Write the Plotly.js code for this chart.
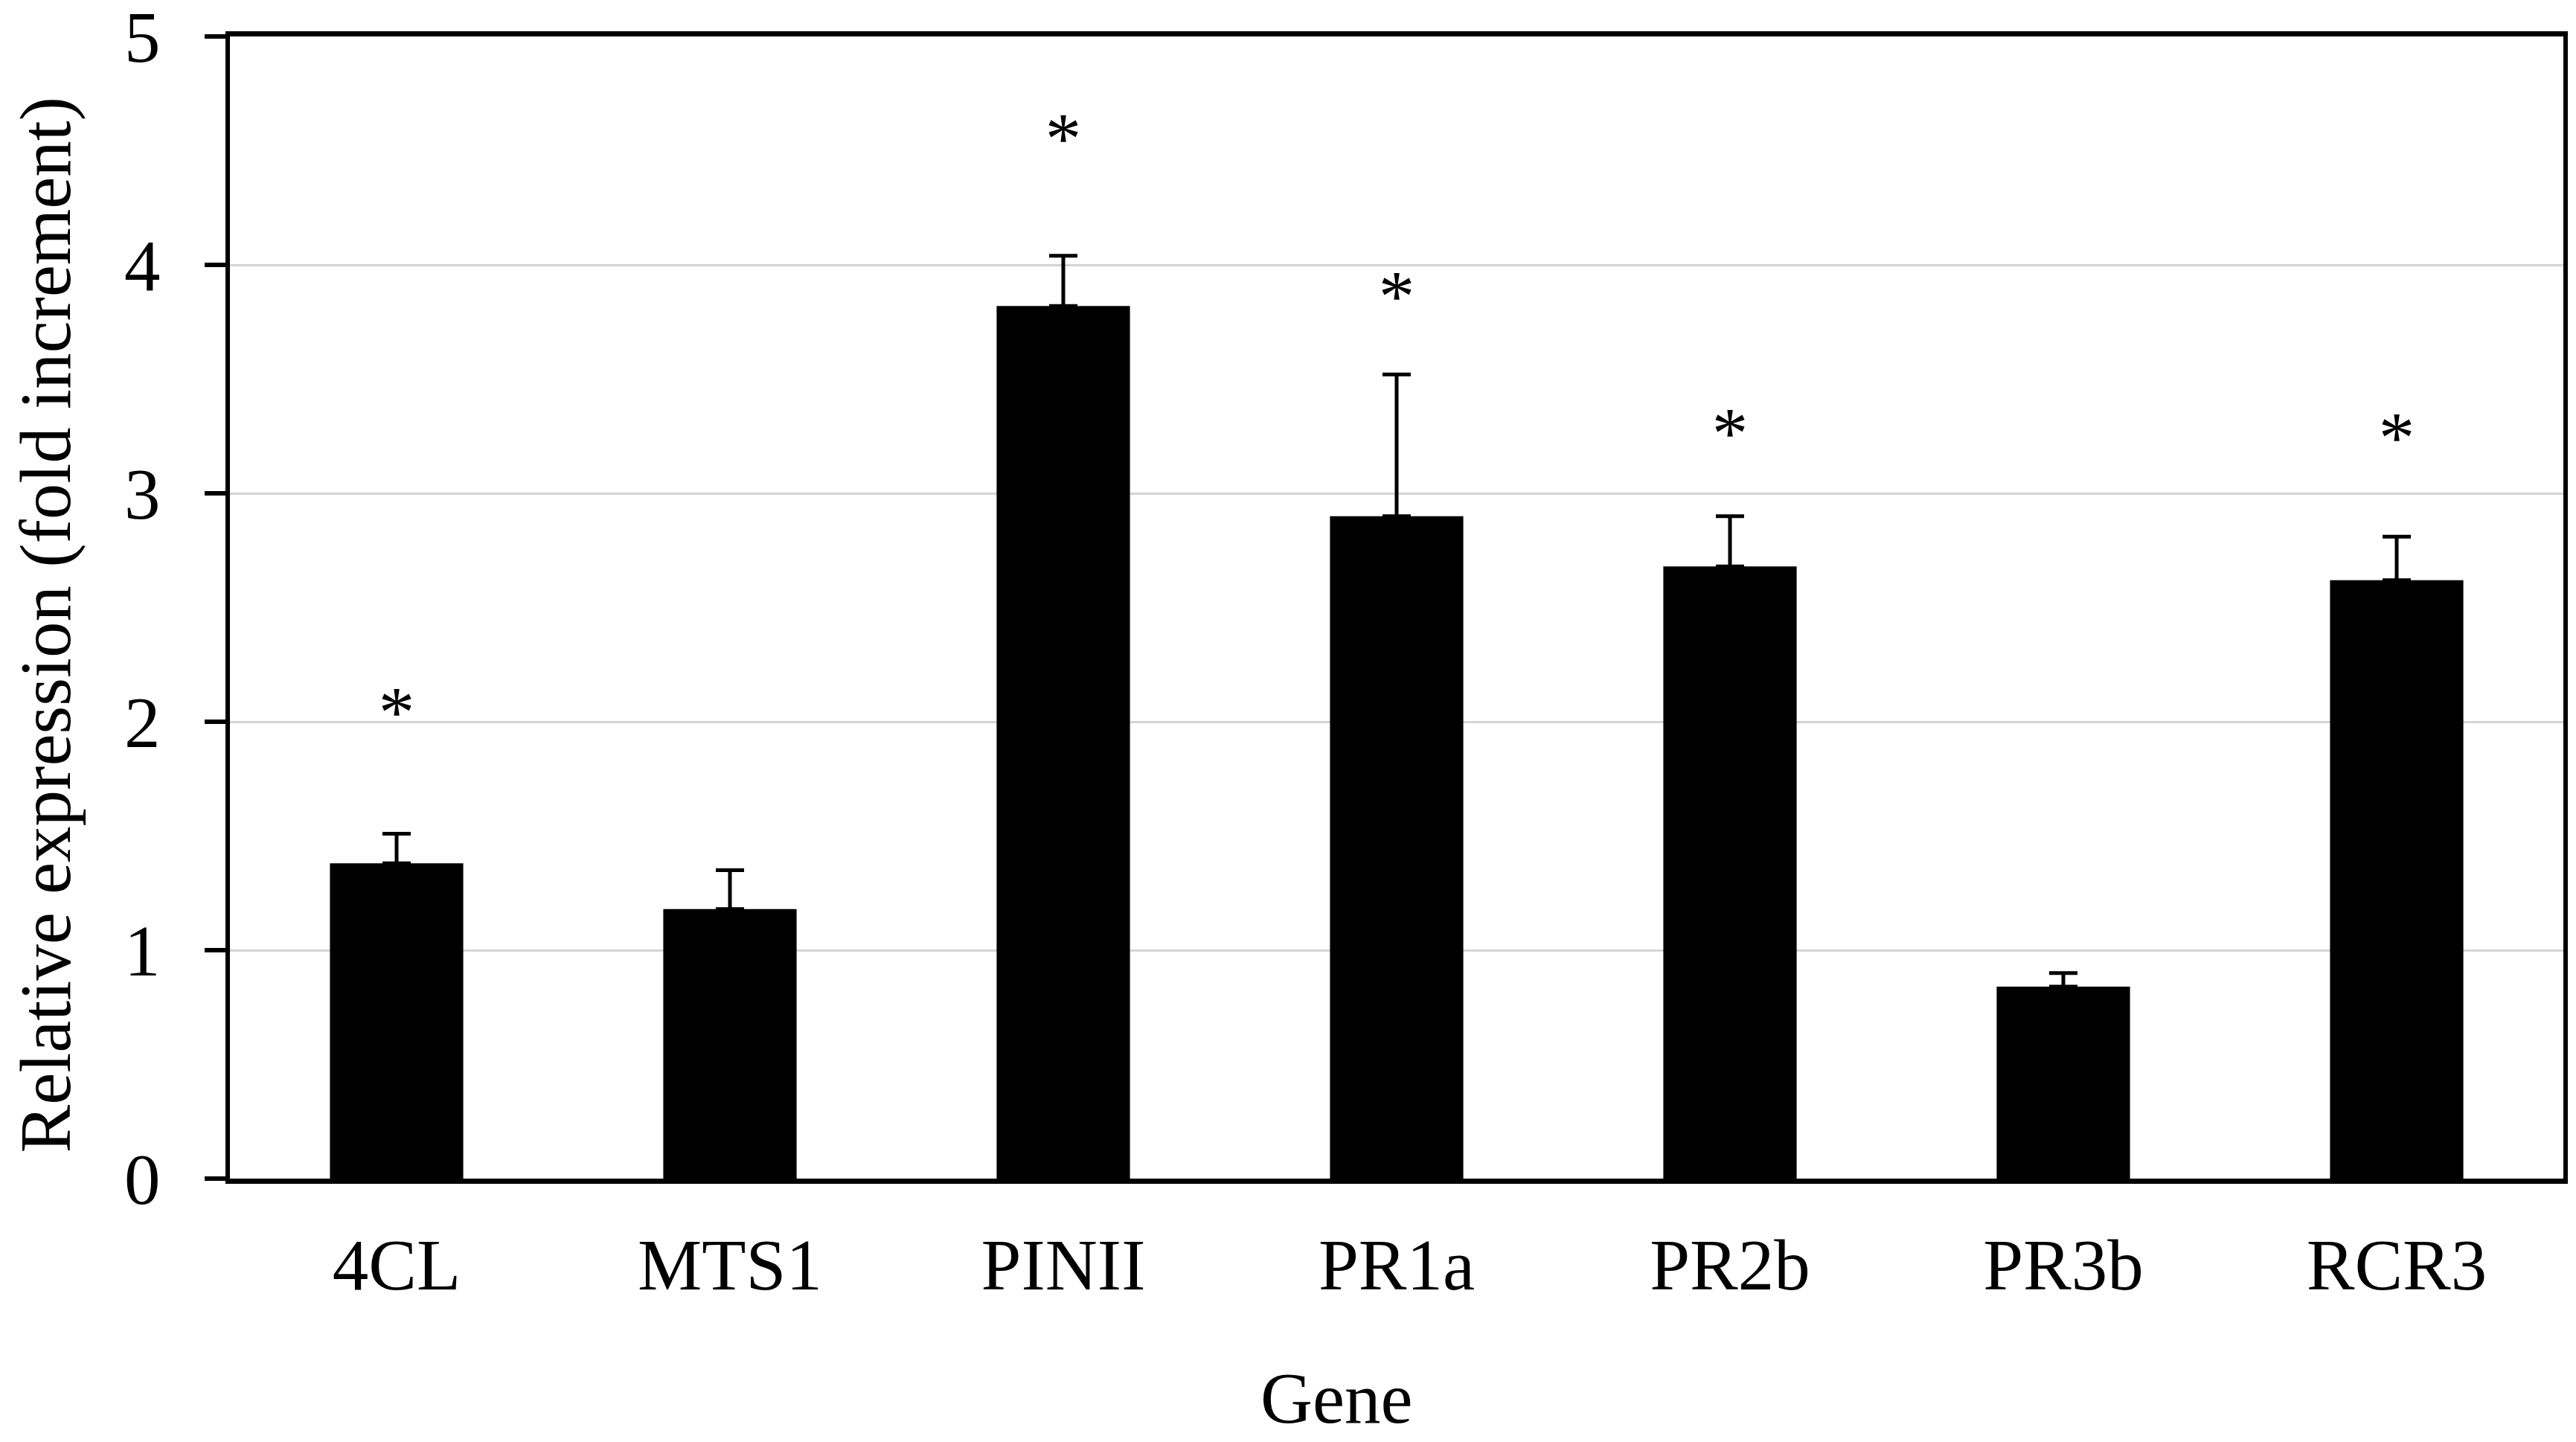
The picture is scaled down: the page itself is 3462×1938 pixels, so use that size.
<!DOCTYPE html>
<html>
<head>
<meta charset="utf-8">
<script src="https://cdn.plot.ly/plotly-3.0.1.min.js"></script>
<style>html,body{margin:0;padding:0;background:#fff;}#chart{width:3462px;height:1938px;}</style>
</head>
<body>
<div id="chart"></div>
<script>
// Data
const genes = ['4CL', 'MTS1', 'PINII', 'PR1a', 'PR2b', 'PR3b', 'RCR3'];
const expression = [1.38, 1.18, 3.82, 2.90, 2.68, 0.84, 2.62];
const errorUp = [0.13, 0.17, 0.22, 0.62, 0.22, 0.06, 0.19];
const sigMark = ['*', '', '*', '*', '*', '', '*'];
const sigY = [2.015, null, 4.525, 3.835, 3.235, null, 3.215];
const yTicks = [0, 1, 2, 3, 4, 5];

const FONT = 'Liberation Serif, Times New Roman, serif';

const bars = {
  type: 'bar',
  x: genes,
  y: expression,
  width: 0.4,
  marker: {color: '#000000', line: {width: 0}},
  error_y: {
    type: 'data',
    symmetric: false,
    array: errorUp,
    arrayminus: genes.map(() => 0),
    color: '#000000',
    thickness: 5,
    width: 19
  },
  hoverinfo: 'x+y',
  showlegend: false
};

const stars = {
  type: 'scatter',
  mode: 'text',
  x: genes,
  y: sigY,
  text: sigMark,
  textposition: 'middle center',
  textfont: {family: FONT, size: 97, color: '#000000'},
  hoverinfo: 'skip',
  showlegend: false
};

const layout = {
  width: 3462,
  height: 1938,
  paper_bgcolor: '#ffffff',
  plot_bgcolor: '#ffffff',
  margin: {l: 309, r: 17, t: 49, b: 354, pad: 0},
  font: {family: FONT, size: 97, color: '#000000'},
  bargap: 0.6,
  xaxis: {
    type: 'category',
    categoryorder: 'array',
    categoryarray: genes,
    range: [-0.5, 6.5],
    showline: true,
    linecolor: '#000000',
    linewidth: 7,
    mirror: true,
    ticks: '',
    showgrid: false,
    zeroline: false,
    tickfont: {family: FONT, size: 97, color: '#000000'},
    ticklabelstandoff: 26,
    ticklabeloverflow: 'allow',
    fixedrange: true
  },
  yaxis: {
    range: [0, 5],
    tickvals: yTicks,
    ticktext: yTicks.map(String),
    showline: true,
    linecolor: '#000000',
    linewidth: 6,
    mirror: true,
    ticks: 'outside',
    ticklen: 28,
    tickwidth: 6,
    tickcolor: '#000000',
    showgrid: true,
    gridcolor: '#d4d4d4',
    gridwidth: 3,
    zeroline: false,
    tickfont: {family: FONT, size: 97, color: '#000000'},
    ticklabelstandoff: 40,
    ticklabeloverflow: 'allow',
    fixedrange: true
  },
  annotations: [
    {
      text: 'Relative expression (fold increment)',
      xref: 'paper', yref: 'paper',
      x: -0.0788, y: 0.485,
      xanchor: 'center', yanchor: 'middle',
      textangle: -90,
      showarrow: false,
      font: {family: FONT, size: 97, color: '#000000'}
    },
    {
      text: 'Gene',
      xref: 'paper', yref: 'paper',
      x: 0.4742, y: -0.1926,
      xanchor: 'center', yanchor: 'middle',
      showarrow: false,
      font: {family: FONT, size: 97, color: '#000000'}
    }
  ]
};

Plotly.newPlot('chart', [bars, stars], layout, {displayModeBar: false, staticPlot: true});
</script>
</body>
</html>
